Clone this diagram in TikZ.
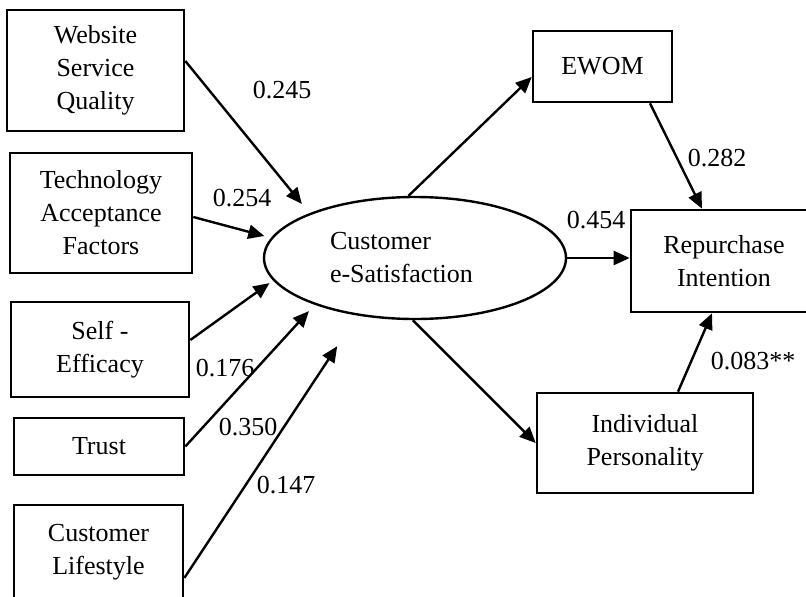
\documentclass[tikz,border=0pt]{standalone}
\usepackage{fontspec}
\setmainfont{Liberation Serif}
\usetikzlibrary{arrows.meta,shapes.geometric}
\tikzset{
  var/.style={draw,line width=2.6pt,align=center,inner sep=0pt},
  lat/.style={ellipse,draw,line width=2.4pt,minimum width=302pt,minimum height=122pt,
    inner sep=0pt,text width=170pt,align=left},
  arr/.style={-{Triangle[length=16pt,width=14pt]},line width=2.4pt},
  coef/.style={inner sep=0pt},
}

\begin{document}
\begin{tikzpicture}[x=1pt,y=-1pt,font={\fontsize{26}{33}\selectfont}]
  \clip (0,0) rectangle (806,597);
  % left column
  \node[var,minimum width=177pt,minimum height=121pt] (web) at (95.5,70.5) {Website\\ Service\\ Quality};
  \node[var,minimum width=182pt,minimum height=120pt] (tech) at (101,213) {Technology\\ Acceptance\\ Factors};
  \node[var,minimum width=178pt,minimum height=95pt] (self) at (100,349.5) {Self -\\ Efficacy};
  \node[var,minimum width=170pt,minimum height=57pt] (trust) at (99,446.5) {Trust};
  \node[var,minimum width=169pt,minimum height=95pt] (life) at (98.5,552.5) {Customer\\ Lifestyle};
  % middle and right
  \node[lat] (sat) at (415,258) {Customer\\ e-Satisfaction};
  \node[var,minimum width=139pt,minimum height=71pt] (ewom) at (602.5,66.5) {EWOM};
  \node[var,minimum width=186pt,minimum height=102pt] (rep) at (724,261) {Repurchase\\ Intention};
  \node[var,minimum width=216pt,minimum height=100pt] (ind) at (645,443) {Individual\\ Personality};

  % paths into e-satisfaction
  \draw[arr,shorten >=12pt] ([yshift=9.5pt]web.east) -- (sat.157.5);
  \draw[arr,shorten >=7pt] ([yshift=-4pt]tech.east) -- (sat.172.9);
  \draw[arr,shorten >=4.5pt] ([yshift=9.5pt]self.east) -- (sat.189.6);
  \draw[arr,shorten >=8.6pt] (trust.east) -- (sat.205.7);
  \draw[arr,shorten >=36.7pt] ([yshift=-25.5pt]life.east) -- (sat.225);
  % paths out of e-satisfaction
  \draw[arr] (sat.96.4) -- ([yshift=-10.5pt]ewom.west);
  \draw[arr] (sat.east) -- (sat.east -| rep.west);
  \draw[arr] (sat.-92) -- (ind.west);
  \draw[arr] ([xshift=47.5pt]ewom.south) -- ([xshift=-22pt]rep.north);
  \draw[arr] ([xshift=33pt]ind.north) -- ([xshift=-12pt]rep.south);

  % coefficients
  \node[coef] (cweb) at (282,90) {0.245};
  \node[coef] (ctech) at (242,198) {0.254};
  \node[coef] (cself) at (225,368) {0.176};
  \node[coef] (ctrust) at (248,427) {0.350};
  \node[coef] (clife) at (286,485) {0.147};
  \node[coef] (cewom) at (717,158) {0.282};
  \node[coef] (csat) at (596,220) {0.454};
  \node[coef] (cind) at (753,361) {0.083**};
\end{tikzpicture}
\end{document}
